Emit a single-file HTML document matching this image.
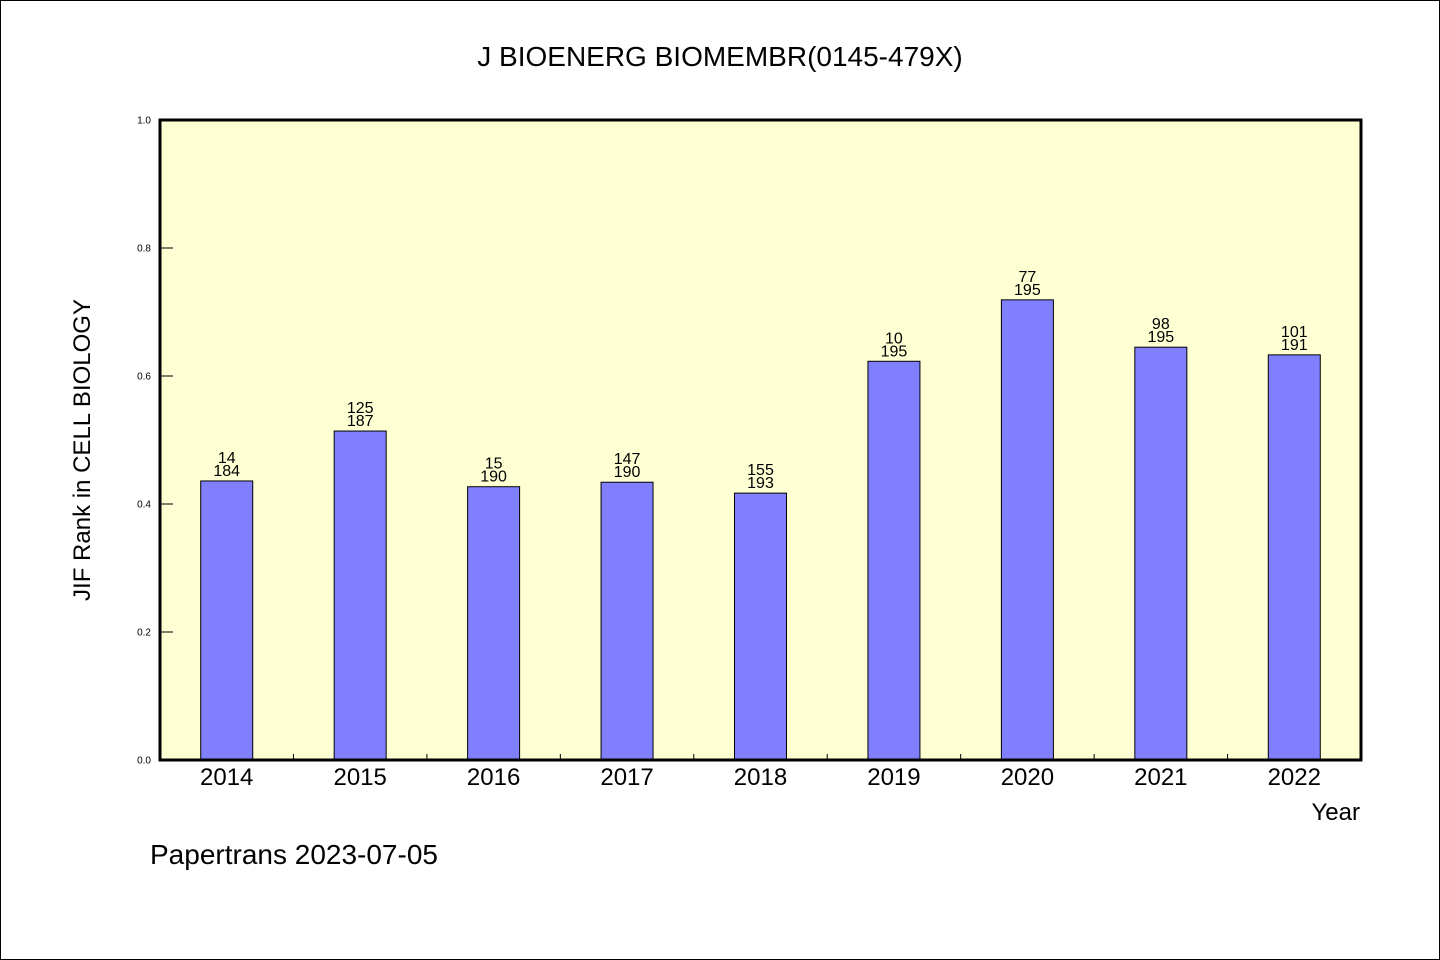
<!DOCTYPE html>
<html><head><meta charset="utf-8"><style>
html,body{margin:0;padding:0;background:#fff}
svg{display:block}
text{font-family:"WenQuanYi Zen Hei","Liberation Sans",sans-serif;fill:#000}
</style></head><body>
<svg id="chart" width="1440" height="960" xmlns="http://www.w3.org/2000/svg">
<rect x="0.5" y="0.5" width="1439" height="959" fill="#fff" stroke="#000" stroke-width="1"/>
<text x="720" y="66" font-size="28" text-anchor="middle">J BIOENERG BIOMEMBR(0145-479X)</text>
<rect x="160" y="120" width="1201" height="640" fill="#ffffd4"/>
<g id="bars"></g>
<g id="axes"></g>
<rect x="160" y="120" width="1201" height="640" fill="none" stroke="#000" stroke-width="3"/>
<text transform="translate(90,450) rotate(-90)" font-size="24" text-anchor="middle">JIF Rank in CELL BIOLOGY</text>
<text x="1360" y="820" font-size="24" text-anchor="end">Year</text>
<text x="150" y="864" font-size="28">Papertrans 2023-07-05</text>
</svg>
<script>
const categories=["2014","2015","2016","2017","2018","2019","2020","2021","2022"];
const values=[0.436,0.514,0.427,0.434,0.417,0.623,0.719,0.645,0.633];
const ranks=["14","125","15","147","155","10","77","98","101"];
const totals=["184","187","190","190","193","195","195","195","191"];
const yTicks=[0,0.2,0.4,0.6,0.8,1.0];
const NS="http://www.w3.org/2000/svg";
const x0=160,x1=1361,y0=760,y1=120;
const band=(x1-x0)/categories.length;
function xc(i){return x0+band*(i+0.5);}
function ys(v){return y0-(y0-y1)*v;}
function mk(t,a,p){const e=document.createElementNS(NS,t);for(const k in a)e.setAttribute(k,a[k]);p.appendChild(e);return e;}
const bars=document.getElementById('bars'),axes=document.getElementById('axes');
categories.forEach((c,i)=>{
  const bw=52,top=ys(values[i]);
  const r=mk('rect',{x:xc(i)-bw/2,y:top,width:bw,height:y0-top,fill:'#8080ff',stroke:'#000','stroke-width':1},bars);
  
  
  const t1=mk('text',{x:xc(i),y:top-18,'font-size':16,'text-anchor':'middle'},bars);t1.textContent=ranks[i];
  
  
  const t2=mk('text',{x:xc(i),y:top-5,'font-size':16,'text-anchor':'middle'},bars);t2.textContent=totals[i];
  
  
  const xl=mk('text',{x:xc(i),y:785,'font-size':24,'text-anchor':'middle'},axes);xl.textContent=c;
  
  
  if(i>0){const tk=mk('line',{x1:x0+band*i,x2:x0+band*i,y1:y0,y2:y0-6,stroke:'#000','stroke-width':1},axes);
  
  }
});
yTicks.forEach(v=>{
  const y=ys(v);
  const l=mk('line',{x1:x0,x2:x0+13,y1:y,y2:y,stroke:'#000','stroke-width':1},axes);
  
  
  const t=mk('text',{x:151,y:y+3.5,'font-size':10,'text-anchor':'end'},axes);t.textContent=v.toFixed(1);
  
  
});
</script>
</body></html>
